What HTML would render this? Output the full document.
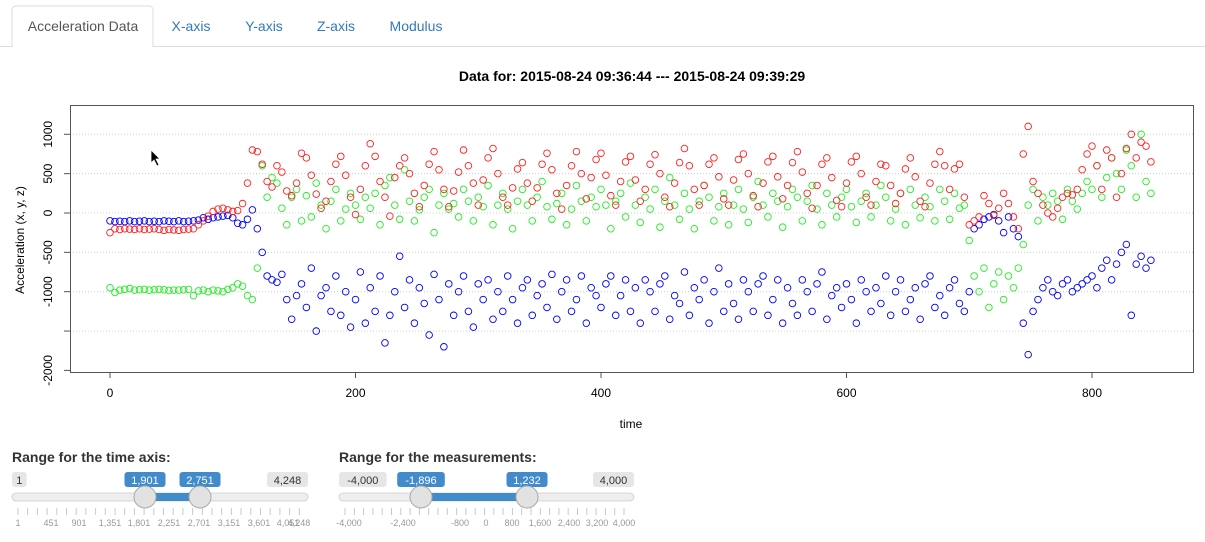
<!DOCTYPE html>
<html><head><meta charset="utf-8"><style>
body{margin:0;width:1205px;height:542px;overflow:hidden;background:#fff;font-family:"Liberation Sans",Arial,sans-serif}
svg{position:absolute;left:0;top:0}
</style></head><body>
<svg id="s" width="1205" height="542">
 <g>
  <line x1="0" y1="46.5" x2="1205" y2="46.5" stroke="#ddd"/>
  <path d="M12 46.5 V10 a4 4 0 0 1 4 -4 H149 a4 4 0 0 1 4 4 V46.5" fill="#fff" stroke="#ddd"/>
  <rect x="13" y="44" width="139" height="4" fill="#fff"/>
  <text x="83" y="31" font-size="14" fill="#555" text-anchor="middle">Acceleration Data</text>
  <text x="191" y="31" font-size="14" fill="#337ab7" text-anchor="middle">X-axis</text>
  <text x="264" y="31" font-size="14" fill="#337ab7" text-anchor="middle">Y-axis</text>
  <text x="336" y="31" font-size="14" fill="#337ab7" text-anchor="middle">Z-axis</text>
  <text x="416" y="31" font-size="14" fill="#337ab7" text-anchor="middle">Modulus</text>
 </g>
 <text x="632" y="81" font-size="14" font-weight="bold" text-anchor="middle">Data for: 2015-08-24 09:36:44 --- 2015-08-24 09:39:29</text>
 <g id="plot"></g>
 <g><path d="M151 150 L151 163 L154 160 L157 166 L159 165 L156 159 L160 159 Z" fill="#000" stroke="#fff" stroke-width="0.8"/></g>
 <g id="sliders"></g>
</svg>
<script>
const times=[];for(let t=0;t<=848;t+=4)times.push(t);
const xTicks=[0,200,400,600,800];
const yTicks=[1000,500,0,-500,-1000,-2000];
const yGrid=[1000,500,0,-500,-1000,-1500];
const seriesX=[-250,-200,-210,-200,-205,-210,-200,-210,-205,-200,
-210,-220,-210,-215,-220,-210,-205,-200,-150,-100,
-40,20,50,60,40,20,30,120,380,800,
780,620,400,330,600,520,280,220,380,760,
700,480,240,60,150,400,620,720,480,200,
-20,300,600,880,720,400,200,-40,450,600,
700,500,250,80,350,620,780,550,300,80,
280,520,800,600,380,100,420,700,820,500,
200,100,320,560,640,380,150,320,620,760,
550,250,50,350,600,780,500,180,450,680,
760,480,220,100,400,650,720,420,150,300,
620,740,500,200,80,380,640,820,600,300,
100,350,620,700,460,180,100,420,680,750,
500,220,80,380,650,720,460,180,350,640,
780,520,250,60,350,620,700,450,160,80,
380,650,720,500,200,100,400,620,600,350,
120,250,560,700,460,150,80,380,620,780,
600,300,560,620,200,-150,-100,-50,220,120,
-30,60,250,120,-50,-200,750,1100,400,250,
100,0,-50,60,200,250,230,300,550,750,
850,600,300,800,700,200,500,820,1000,700,
900,850,650];
const seriesY=[-950,-1010,-980,-970,-960,-980,-975,-970,-980,-975,
-970,-975,-985,-980,-980,-975,-970,-1050,-990,-980,
-1000,-980,-990,-1000,-970,-950,-900,-930,-1050,-1100,
-700,600,200,450,380,60,-150,200,300,-100,
220,-50,380,100,-200,150,300,-100,50,250,
100,-80,200,60,250,-150,350,450,100,-80,
550,150,-100,40,200,300,-250,100,250,50,
120,-50,300,150,-100,200,80,350,-150,100,
250,50,-200,150,300,100,-100,200,400,80,
-80,120,250,-150,50,350,150,-100,200,80,
300,100,-200,150,250,-50,380,100,-120,200,
50,300,-180,150,450,100,-80,250,50,-200,
150,350,200,-100,80,250,-150,100,300,50,
-120,200,400,100,-50,250,150,-180,80,300,
200,-100,150,350,50,-150,250,100,-50,200,
300,80,-120,150,250,-50,100,350,200,-100,
50,250,-150,300,100,-60,200,80,-100,300,
150,-80,250,60,100,-350,-800,-1000,-700,-1200,
-900,-750,-1100,-800,-950,-700,-400,100,300,-100,
200,100,250,150,-80,300,150,50,250,400,
300,600,200,450,700,500,300,800,600,200,
1000,400,250];
const seriesZ=[-100,-110,-105,-110,-100,-110,-105,-100,-110,-105,
-110,-100,-105,-110,-100,-110,-105,-100,-90,-60,
-80,-60,-50,-40,-30,-60,-130,-150,-80,40,
-200,-500,-800,-850,-880,-780,-1100,-1350,-1050,-900,
-1200,-700,-1500,-1050,-950,-1250,-800,-1300,-1000,-1450,
-1100,-750,-1400,-950,-1250,-800,-1650,-1300,-1000,-550,
-1200,-850,-1400,-950,-1150,-1550,-780,-1100,-1700,-900,
-1300,-1000,-800,-1250,-1450,-900,-1100,-850,-1350,-1000,
-1250,-800,-1100,-1400,-950,-850,-1300,-1050,-900,-1200,
-780,-1350,-1000,-850,-1250,-1100,-800,-1400,-950,-1050,
-1200,-900,-800,-1300,-1050,-850,-1250,-950,-1400,-850,
-1000,-1250,-900,-800,-1350,-1050,-1150,-750,-1300,-950,
-1100,-850,-1400,-1000,-700,-1250,-900,-1150,-1350,-850,
-1000,-1250,-900,-800,-1300,-1100,-850,-1400,-950,-1150,
-1300,-850,-1000,-1250,-900,-750,-1350,-1050,-950,-1200,
-900,-1100,-1400,-850,-1000,-1250,-950,-1150,-800,-1300,
-1000,-850,-1250,-1100,-950,-1350,-900,-800,-1200,-1050,
-1300,-950,-850,-1150,-1250,-1000,-200,-150,-80,-50,
-20,-100,-250,-50,-200,-300,-1400,-1800,-1250,-1100,
-950,-850,-1000,-1050,-900,-850,-1000,-950,-900,-850,
-800,-950,-700,-600,-850,-650,-500,-400,-1300,-650,
-550,-700,-600];
const NS='http://www.w3.org/2000/svg';
function mk(tag,attrs,parent){const e=document.createElementNS(NS,tag);for(const k in attrs)e.setAttribute(k,attrs[k]);parent.appendChild(e);return e;}
const xs=t=>110+t*1.2275;
const ys=v=>213-v*0.0787;
const plot=document.getElementById('plot');
yGrid.forEach(v=>{const l=mk('line',{x1:70,x2:1193,y1:ys(v),y2:ys(v),stroke:'#ccc','stroke-dasharray':'1 2'},plot);

});
const box=mk('rect',{x:70.5,y:105.5,width:1123,height:267,fill:'none',stroke:'#555'},plot);


xTicks.forEach(t=>{mk('line',{x1:xs(t),x2:xs(t),y1:372,y2:378,stroke:'#555'},plot);
const tx=mk('text',{x:xs(t),y:397,'font-size':12,'text-anchor':'middle'},plot);tx.textContent=t;

});
yGrid.concat([-2000]).forEach(v=>mk('line',{x1:64,x2:70,y1:ys(v),y2:ys(v),stroke:'#555'},plot));
yTicks.forEach(v=>{const tx=mk('text',{x:0,y:0,'font-size':12,'text-anchor':'middle',transform:`translate(52,${ys(v)}) rotate(-90)`},plot);tx.textContent=v;

});
const xl=mk('text',{x:631,y:428,'font-size':12,'text-anchor':'middle'},plot);xl.textContent='time';


const yl=mk('text',{x:0,y:0,'font-size':12,'text-anchor':'middle',transform:'translate(24,240) rotate(-90)'},plot);yl.textContent='Acceleration (x, y, z)';


[[seriesY,'#22ee22','series-y'],[seriesZ,'#0000ff','series-z'],[seriesX,'#ff2020','series-x']].forEach(([arr,c,nm])=>{
 const g=mk('g',{},plot);
 
 
 arr.forEach((v,i)=>{const p=mk('circle',{cx:xs(times[i]),cy:ys(v),r:3.3,fill:'none',stroke:c,'stroke-width':0.9},g);
 
 });
});
// sliders
const sl=document.getElementById('sliders');
function slider(x0,x1,label,minL,maxL,h1,h2,l1,l2,ticks,labs,nm){
 const g=mk('g',{},sl);
 
 
 const t=mk('text',{x:x0,y:462,'font-size':14,'font-weight':'bold',fill:'#333'},g);t.textContent=label;
 
 
 const badge=(cx,txt,anchorLeft,blue)=>{const w=txt.length*6.6+8;const x=anchorLeft===1?cx:anchorLeft===2?cx-w:cx-w/2;
  mk('rect',{x:x,y:472,width:w,height:15,rx:3,fill:blue?'#428bca':'#e6e6e6'},g);
  const b=mk('text',{x:x+w/2,y:484,'font-size':11,'text-anchor':'middle',fill:blue?'#fff':'#333'},g);b.textContent=txt;
  
  };
 badge(x0,minL,1,false);badge(x1,maxL,2,false);badge(h1,l1,0,true);badge(h2,l2,0,true);
 mk('rect',{x:x0,y:493,width:x1-x0,height:8,rx:4,fill:'#eee',stroke:'#ccc','stroke-width':0.8},g);
 mk('rect',{x:h1,y:493,width:h2-h1,height:8,fill:'#428bca'},g);
 ticks.forEach(tx=>mk('line',{x1:tx,x2:tx,y1:508,y2:515,stroke:'#bcd',}, g));
 labs.forEach(([tx,s])=>{const e=mk('text',{x:tx,y:526,'font-size':9,'text-anchor':'middle',fill:'#999'},g);e.textContent=s;});
 [h1,h2].forEach(h=>{const c=mk('circle',{cx:h,cy:497,r:11,fill:'#e2e2e2',stroke:'#aaa'},g);
  
  });
}
const tk1=[];for(let i=0;i<=29;i++)tk1.push(18+i*9.7);
slider(12,308,'Range for the time axis:','1','4,248',145,200,'1,901','2,751',tk1,
 [[18,'1'],[51,'451'],[79,'901'],[110,'1,351'],[139,'1,801'],[169,'2,251'],[199,'2,701'],[229,'3,151'],[259,'3,601'],[288,'4,051'],[299,'4,248']],'time-range-slider');
const tk2=[];for(let i=0;i<=30;i++)tk2.push(345+i*9.3);
slider(339,634,'Range for the measurements:','-4,000','4,000',421,527,'-1,896','1,232',tk2,
 [[349,'-4,000'],[403,'-2,400'],[460,'-800'],[486,'0'],[512,'800'],[540,'1,600'],[569,'2,400'],[597,'3,200'],[624,'4,000']],'measurement-range-slider');
</script>
</body></html>
